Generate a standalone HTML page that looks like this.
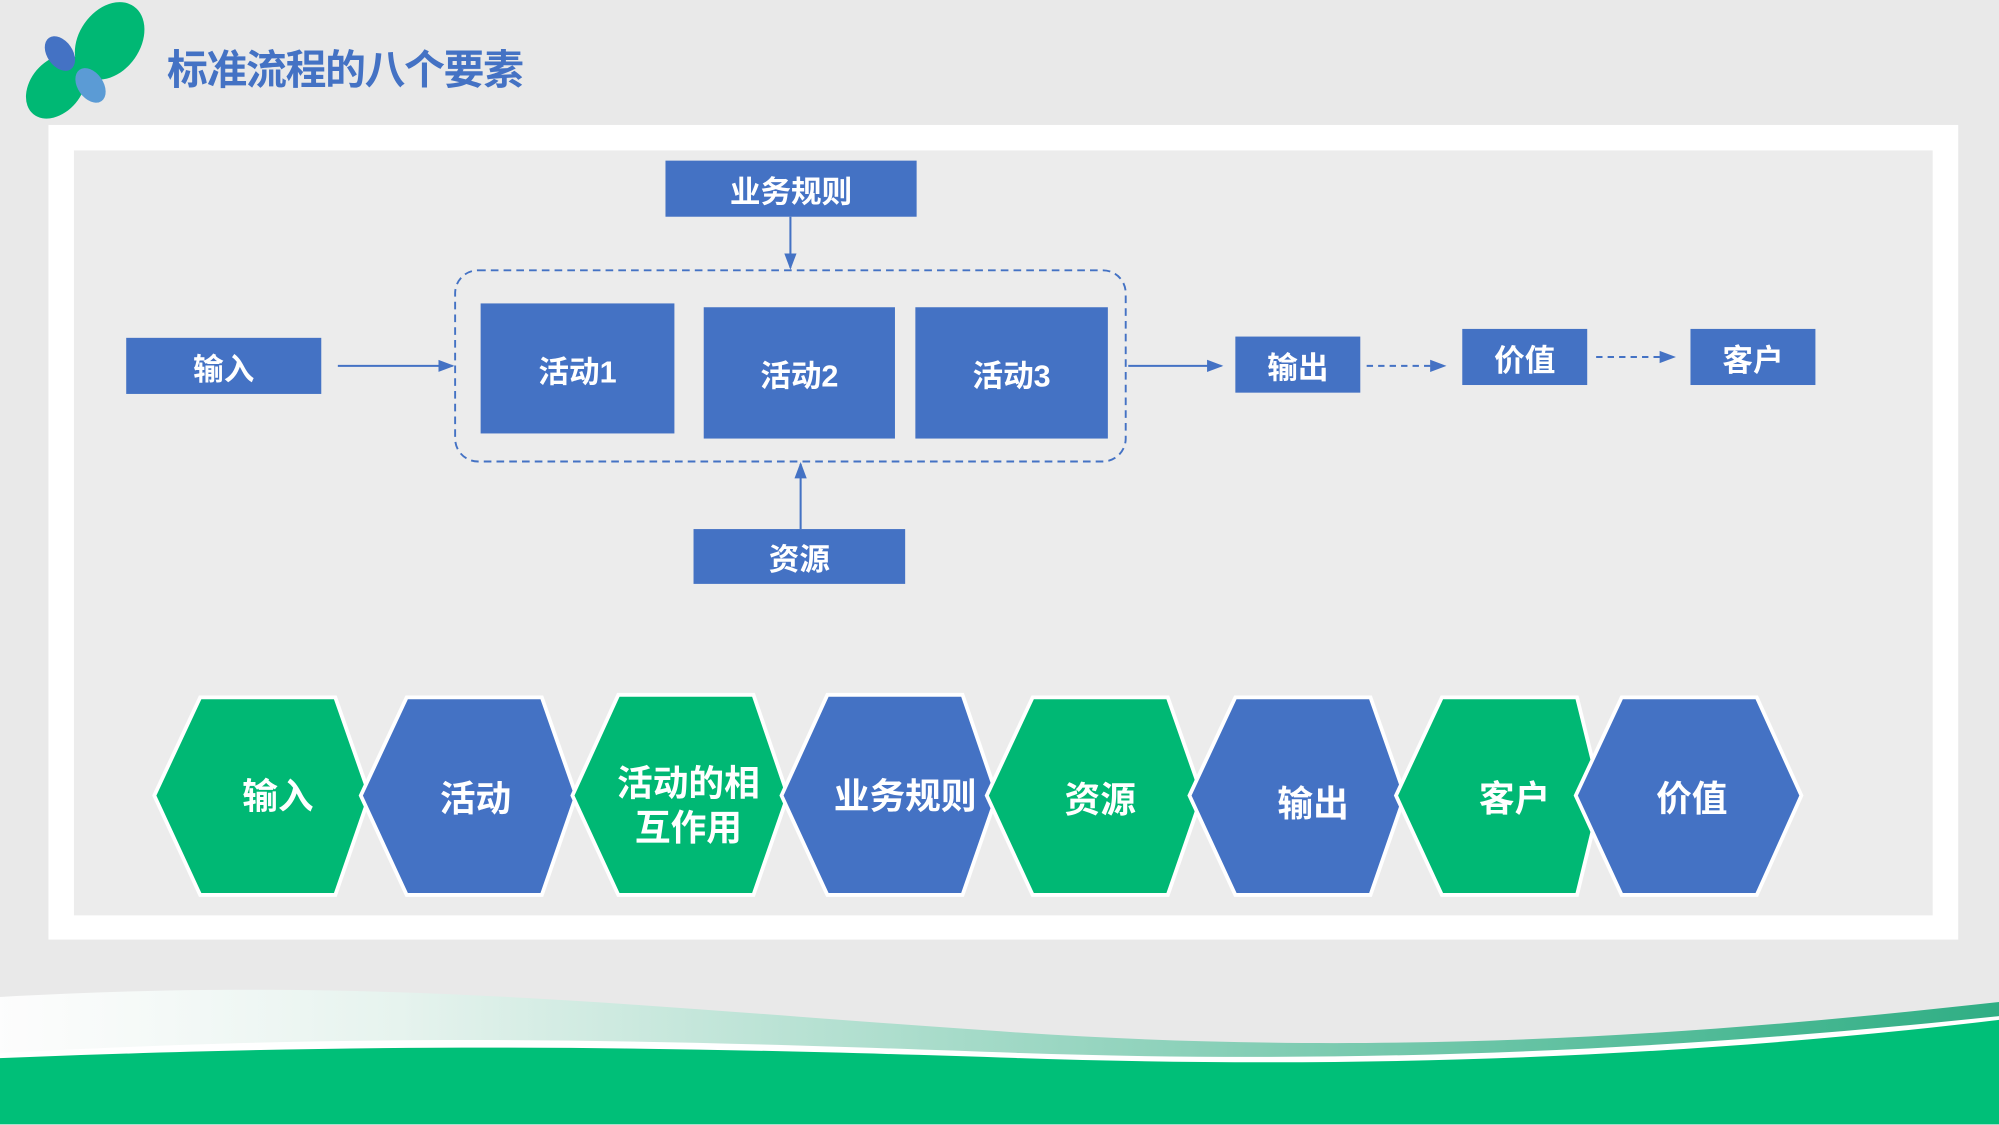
<!DOCTYPE html>
<html><head><meta charset="utf-8"><style>
html,body{margin:0;padding:0;overflow:hidden;background:#e8e8e8}
#s{position:absolute;left:0;top:0;width:1568px;height:882px;transform:scale(1.27487);transform-origin:0 0;background:#e9e9e9;font-family:"Liberation Sans","Noto Sans CJK SC",sans-serif}
.b{position:absolute;background:#4472c4;color:#fff;font-weight:bold;font-size:24px;display:flex;align-items:center;justify-content:center}
</style></head><body><div id="s">
<svg width="1568" height="882" style="position:absolute;left:0;top:0">
<defs>
<linearGradient id="g" x1="0" x2="1"><stop offset="0" stop-color="#fff" stop-opacity=".9"/><stop offset="0.2" stop-color="#e6f3ee"/><stop offset="1" stop-color="#2fae84"/></linearGradient>
<marker id="a" markerWidth="8" markerHeight="8" refX="7" refY="4" orient="auto"><path d="M0,1 L8,4 L0,7z" fill="#4472c4"/></marker>
</defs>
<ellipse cx="86" cy="32" rx="33" ry="24" fill="#00b874" transform="rotate(-55 86 32)"/>
<ellipse cx="44" cy="68" rx="28" ry="20" fill="#00b874" transform="rotate(-50 44 68)"/>
<ellipse cx="47" cy="42" rx="15" ry="10" fill="#4472c4" transform="rotate(55 47 42)"/>
<ellipse cx="71" cy="67" rx="15" ry="10" fill="#5b9bd5" transform="rotate(55 71 67)"/>
<rect x="38" y="98" width="1498" height="639" fill="#fff"/>
<rect x="58" y="118" width="1458" height="600" fill="#ececec"/>
<rect x="357" y="212" width="526" height="150" rx="18" fill="none" stroke="#4472c4" stroke-width="1.5" stroke-dasharray="6,4"/>
<g stroke="#4472c4" stroke-width="1.6" fill="none" marker-end="url(#a)">
<line x1="620" y1="170" x2="620" y2="210"/>
<line x1="628" y1="415" x2="628" y2="364"/>
<line x1="265" y1="287" x2="355" y2="287"/>
<line x1="885" y1="287" x2="958" y2="287"/>
<line x1="1072" y1="287" x2="1133" y2="287" stroke-dasharray="5,4"/>
<line x1="1252" y1="280" x2="1313" y2="280" stroke-dasharray="5,4"/>
</g>
<g stroke="#fff" stroke-width="3">
<polygon points="121,624 157,547 263,547 290,624 263,702 157,702" fill="#00b874"/>
<polygon points="283,624 319,547 425,547 452,624 425,702 319,702" fill="#4472c4"/>
<polygon points="449,624 485,545 591,545 618,624 591,702 485,702" fill="#00b874"/>
<polygon points="613,624 649,545 755,545 782,624 755,702 649,702" fill="#4472c4"/>
<polygon points="774,624 810,547 916,547 943,624 916,702 810,702" fill="#00b874"/>
<polygon points="933,624 969,547 1075,547 1102,624 1075,702 969,702" fill="#4472c4"/>
<polygon points="1095,624 1131,547 1237,547 1256,624 1237,702 1131,702" fill="#00b874"/>
<polygon points="1236,624 1272,547 1378,547 1413,624 1378,702 1272,702" fill="#4472c4"/>
</g>
<g fill="#fff" font-weight="bold" font-size="28" text-anchor="middle" font-family="Liberation Sans,Noto Sans CJK SC,sans-serif">
<text x="218" y="634">输入</text>
<text x="373" y="636">活动</text>
<text x="540" y="624">活动的相</text>
<text x="540" y="659">互作用</text>
<text x="710" y="634">业务规则</text>
<text x="863" y="637">资源</text>
<text x="1030" y="640">输出</text>
<text x="1188" y="636">客户</text>
<text x="1327" y="636">价值</text>
</g>
<path d="M0,782 C300,765 500,790 800,810 C1100,830 1350,810 1568,786 L1568,882 L0,882z" fill="url(#g)"/>
<path d="M0,826 C300,810 500,815 800,826 C1100,836 1350,820 1568,797 L1568,882 L0,882z" fill="#fff"/>
<path d="M0,830 C300,818 500,820 800,830 C1100,840 1350,826 1568,800 L1568,882 L0,882z" fill="#00bf78"/>
</svg>
<div style="position:absolute;left:131px;top:35px;font-size:32px;font-weight:bold;color:#4472c4;line-height:40px;letter-spacing:-1px">标准流程的八个要素</div>
<div class="b" style="left:522px;top:126px;width:197px;height:44px">业务规则</div>
<div class="b" style="left:99px;top:265px;width:153px;height:44px">输入</div>
<div class="b" style="left:377px;top:238px;width:152px;height:102px">活动1</div>
<div class="b" style="left:552px;top:241px;width:150px;height:103px">活动2</div>
<div class="b" style="left:718px;top:241px;width:151px;height:103px">活动3</div>
<div class="b" style="left:969px;top:264px;width:98px;height:44px">输出</div>
<div class="b" style="left:1147px;top:258px;width:98px;height:44px">价值</div>
<div class="b" style="left:1326px;top:258px;width:98px;height:44px">客户</div>
<div class="b" style="left:544px;top:415px;width:166px;height:43px">资源</div>
</div></body></html>
